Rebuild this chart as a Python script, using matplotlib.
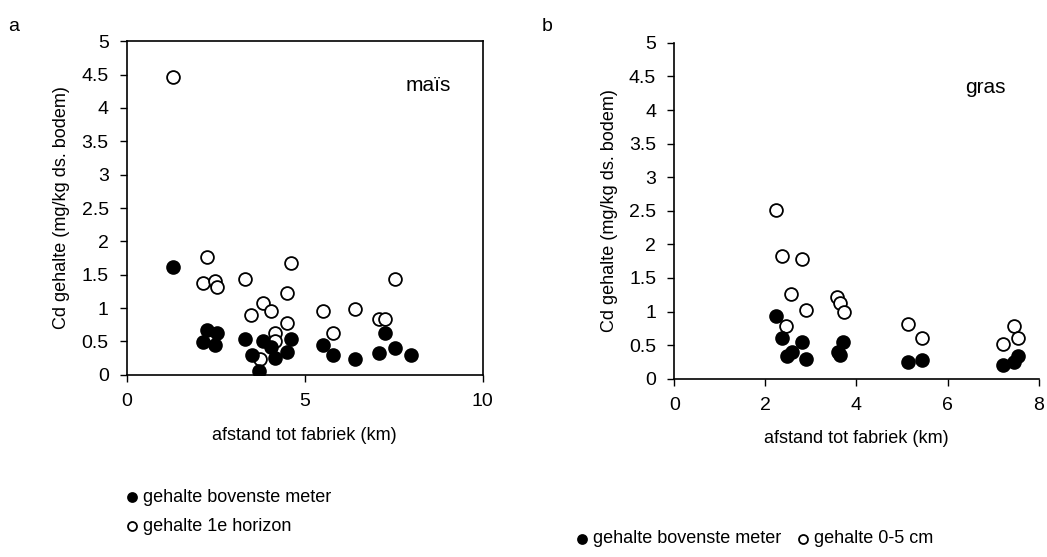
import matplotlib.pyplot as plt

plt.rcParams['font.family'] = ['Liberation Sans', 'DejaVu Sans']

# panel a (mais)
a_filled_x = [1.30, 2.26, 2.55, 2.14, 2.49, 3.32, 3.51, 3.83, 4.04, 3.72, 4.17, 4.50, 4.61,
              5.52, 5.80, 6.41, 7.09, 7.27, 7.54, 8.0]
a_filled_y = [1.62, 0.67, 0.63, 0.49, 0.45, 0.53, 0.30, 0.51, 0.42, 0.06, 0.25, 0.35, 0.54,
              0.45, 0.30, 0.24, 0.33, 0.63, 0.41, 0.30]
a_open_x = [1.30, 2.26, 2.14, 2.49, 2.55, 3.31, 4.62, 4.51, 3.83, 4.06, 3.50, 4.50, 4.17, 4.17,
            3.74, 5.52, 5.80, 6.41, 7.09, 7.27, 7.53]
a_open_y = [4.46, 1.77, 1.37, 1.41, 1.32, 1.44, 1.68, 1.23, 1.07, 0.96, 0.90, 0.78, 0.63, 0.51,
            0.24, 0.96, 0.63, 0.99, 0.84, 0.84, 1.44]

# panel b (gras)
b_filled_x = [2.23, 2.36, 2.47, 2.59, 2.80, 2.89, 3.60, 3.64, 3.71, 5.14, 5.43, 7.22, 7.46, 7.55]
b_filled_y = [0.93, 0.60, 0.34, 0.40, 0.55, 0.30, 0.40, 0.35, 0.55, 0.25, 0.28, 0.21, 0.25, 0.34]
b_open_x = [2.23, 2.36, 2.80, 2.57, 2.89, 2.46, 3.58, 3.63, 3.73, 5.14, 5.43, 7.22, 7.46, 7.55]
b_open_y = [2.51, 1.83, 1.79, 1.26, 1.02, 0.78, 1.21, 1.13, 0.99, 0.81, 0.60, 0.52, 0.78, 0.60]

yticks = [0, 0.5, 1, 1.5, 2, 2.5, 3, 3.5, 4, 4.5, 5]
ms = 85
fs = 14
lfs = 13

fig = plt.figure(figsize=(10.47, 5.57), dpi=100)
ax1 = fig.add_axes([0.121, 0.327, 0.340, 0.599])
ax2 = fig.add_axes([0.644, 0.320, 0.348, 0.603])

def draw(ax, fx, fy, ox, oy, xmax, xticks, label, box):
    ax.scatter(fx, fy, s=ms, c='black', edgecolors='black', linewidths=1.3, zorder=3)
    ax.scatter(ox, oy, s=ms, facecolors='white', edgecolors='black', linewidths=1.3, zorder=2)
    ax.set_xlim(0, xmax)
    ax.set_ylim(0, 5)
    ax.set_xticks(xticks)
    ax.set_yticks(yticks)
    ax.set_yticklabels([f'{t:g}' for t in yticks])
    ax.tick_params(labelsize=fs, direction='out', length=5, width=1, pad=8)
    ax.set_xlabel('afstand tot fabriek (km)', fontsize=lfs, labelpad=12)
    ax.set_ylabel('Cd gehalte (mg/kg ds. bodem)', fontsize=lfs, labelpad=8)
    ax.text(0.91, 0.85, label, transform=ax.transAxes, fontsize=15, ha='right')
    for s in ax.spines.values():
        s.set_linewidth(1.2)
    if not box:
        ax.spines['top'].set_visible(False)
        ax.spines['right'].set_visible(False)

draw(ax1, a_filled_x, a_filled_y, a_open_x, a_open_y, 10, [0, 5, 10], 'maïs', True)
draw(ax2, b_filled_x, b_filled_y, b_open_x, b_open_y, 8, [0, 2, 4, 6, 8], 'gras', False)

fig.text(0.008, 0.945, 'a', fontsize=fs)
fig.text(0.517, 0.945, 'b', fontsize=fs)

fig.legend(handles=[ax1.collections[0], ax1.collections[1]],
           labels=['gehalte bovenste meter', 'gehalte 1e horizon'],
           loc='lower left', bbox_to_anchor=(0.100, 0.01), frameon=False, fontsize=lfs,
           markerscale=0.7, handletextpad=0.0, labelspacing=0.7, handlelength=1.2)
fig.legend(handles=[ax2.collections[0], ax2.collections[1]],
           labels=['gehalte bovenste meter', 'gehalte 0-5 cm'],
           loc='lower left', bbox_to_anchor=(0.530, -0.012), frameon=False, fontsize=lfs,
           markerscale=0.7, handletextpad=0.0, ncol=2, columnspacing=0.6, handlelength=1.2)

fig.savefig('out.png', dpi=100)
